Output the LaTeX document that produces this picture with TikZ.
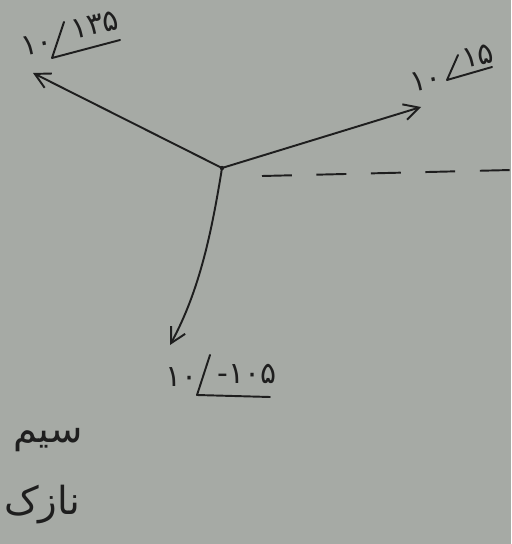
\documentclass[tikz,border=0pt]{standalone}
\usepackage{fontspec}
\newfontfamily\arabicfont[Script=Arabic]{DejaVu Sans}
\newfontfamily\digitfont{DejaVu Sans}
\TeXXeTstate=1
\usetikzlibrary{arrows.meta}
\definecolor{paper}{RGB}{166,170,165}
\definecolor{ink}{RGB}{30,30,30}
\tikzset{
  phasor/.style={draw=ink, line width=1.1pt, -{Straight Barb[length=3mm,width=3.2mm]}},
  phlabel/.style={text=ink, font=\digitfont\fontsize{17}{19}\selectfont, inner sep=0pt},
  anglemark/.style={draw=ink, line width=1.1pt, line join=round, line cap=round},
  note/.style={text=ink, font=\arabicfont\fontsize{22}{30}\selectfont, inner sep=0pt}
}
\begin{document}
\begin{tikzpicture}[x=0.02cm,y=-0.02cm]
  \fill[paper] (0,0) rectangle (511,544);
  \useasboundingbox (0,0) rectangle (511,544);

  % common origin of the three phasors
  \coordinate (O) at (222,168);
  \fill[ink] (O) circle (2.2);
  \coordinate (A) at (33,73);
  \coordinate (B) at (421,107);
  \coordinate (C) at (170,345);
  \coordinate (R0) at (262,176);
  \coordinate (R1) at (511,170);

  \draw[phasor] (O) -- (A);
  \draw[phasor] (O) -- (B);
  \draw[phasor] (O) .. controls (212,230) and (200,290) .. (C);

  % reference axis
  \draw[ink, line width=1.1pt, dash pattern=on 17pt off 14pt] (R0) -- (R1);

  % phasor at 135 degrees
  \node[phlabel, rotate=12] (LAm) at (37,44) {۱۰};
  \coordinate (LAt) at (64,22);
  \coordinate (LAv) at (52,58);
  \coordinate (LAe) at (120,40);
  \draw[anglemark] (LAt) -- (LAv) -- (LAe);
  \node[phlabel, rotate=12] (LAa) at (95,25) {۱۳۵};

  % phasor at 15 degrees
  \node[phlabel, rotate=12] (LBm) at (426,80) {۱۰};
  \coordinate (LBt) at (458,55);
  \coordinate (LBv) at (447,80);
  \coordinate (LBe) at (492,67);
  \draw[anglemark] (LBt) -- (LBv) -- (LBe);
  \node[phlabel, rotate=12] (LBa) at (478,56) {۱۵};

  % phasor at -105 degrees
  \node[phlabel] (LCm) at (182,377) {۱۰};
  \coordinate (LCt) at (210,355);
  \coordinate (LCv) at (197,395);
  \coordinate (LCe) at (270,397);
  \draw[anglemark] (LCt) -- (LCv) -- (LCe);
  \node[phlabel] (LCa) at (247,374) {-۱۰۵};

  \node[note] (N1) at (48,440) {\beginR سیم\endR};
  \node[note] (N2) at (42,505) {\beginR نازک\endR};
\end{tikzpicture}
\end{document}
